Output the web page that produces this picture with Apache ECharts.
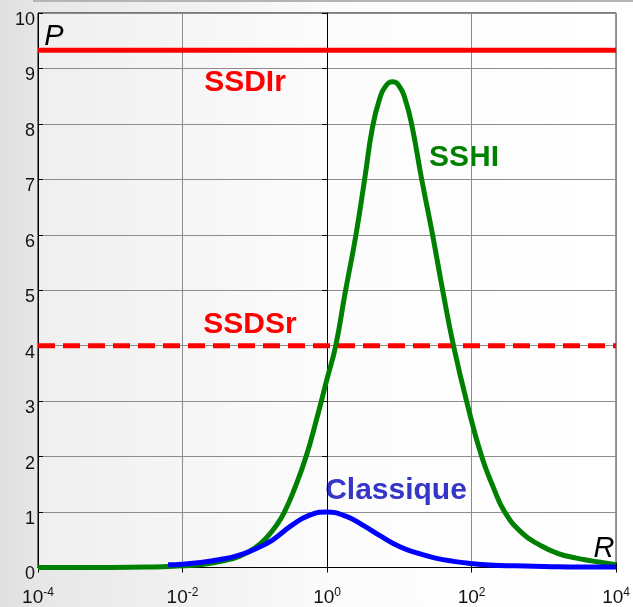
<!DOCTYPE html>
<html>
<head>
<meta charset="utf-8">
<script src="https://cdn.jsdelivr.net/npm/echarts@6/dist/echarts.min.js"></script>
<style>
html,body{margin:0;padding:0;}
#chart{width:633px;height:607px;}
</style>
</head>
<body>
<div id="chart"></div>
<script>
// ---- data (x in log10(R)) ----
const xTickExponents = [-4, -2, 0, 2, 4];
const yTickValues = [0, 1, 2, 3, 4, 5, 6, 7, 8, 9, 10];

const sshiLogR = [-4.0, -3.0, -2.4, -2.0, -1.7, -1.4, -1.2, -1.0, -0.85, -0.7, -0.59, -0.45, -0.29, -0.15, 0.0, 0.12, 0.25, 0.40, 0.52, 0.63, 0.73, 0.81, 0.91, 1.00, 1.08, 1.17, 1.31, 1.46, 1.60, 1.75, 1.95, 2.14, 2.30, 2.46, 2.70, 2.95, 3.20, 3.45, 3.66, 3.85, 4.0];
const sshiP    = [0.0, 0.0, 0.01, 0.03, 0.06, 0.13, 0.21, 0.35, 0.52, 0.76, 1.0, 1.42, 2.0, 2.65, 3.4, 4.0, 4.95, 6.0, 7.0, 7.95, 8.46, 8.68, 8.76, 8.68, 8.45, 8.0, 7.0, 6.0, 5.0, 4.0, 2.9, 2.0, 1.45, 1.0, 0.62, 0.40, 0.25, 0.17, 0.12, 0.08, 0.05];

const classiqueLogR = [-2.2, -2.0, -1.75, -1.5, -1.25, -1.0, -0.75, -0.5, -0.25, 0.0, 0.25, 0.5, 0.75, 1.0, 1.25, 1.5, 1.75, 2.0, 2.25, 2.6, 3.0, 3.5, 4.0];
const classiqueP    = [0.05, 0.06, 0.09, 0.14, 0.21, 0.33, 0.5, 0.75, 0.94, 1.0, 0.93, 0.76, 0.56, 0.38, 0.26, 0.17, 0.11, 0.07, 0.045, 0.03, 0.02, 0.01, 0.01];

const ssdirLevel = 9.33;
const ssdsrLevel = 4.0;
const xRange = [-4, 4];
const yRange = [0, 10];

function pairs(xs, ys){ return xs.map((x,i)=>[x, ys[i]]); }

const FONT = '"Liberation Sans", Arial, sans-serif';
const chart = echarts.init(document.getElementById('chart'));

const option = {
  animation: false,
  backgroundColor: {
    type: 'linear', x: 0, y: 0, x2: 1, y2: 0,
    colorStops: [
      {offset: 0, color: '#dedede'},
      {offset: 0.06, color: '#e7e7e7'},
      {offset: 0.55, color: '#fcfcfc'},
      {offset: 1, color: '#ffffff'}
    ]
  },
  grid: {
    left: 38, right: 14, top: 13, bottom: 38,
    show: true,
    borderColor: '#000', borderWidth: 1,
    backgroundColor: {
      type: 'linear', x: 0, y: 0, x2: 1, y2: 0,
      colorStops: [
        {offset: 0, color: '#efefef'},
        {offset: 0.5, color: '#fcfcfc'},
        {offset: 1, color: '#ffffff'}
      ]
    }
  },
  xAxis: [{
    type: 'value', min: xRange[0], max: xRange[1], interval: 2,
    axisLine: {show: true, onZero: false, lineStyle: {color: '#000', width: 1}},
    axisTick: {show: true, inside: true, length: 5, lineStyle: {color: '#000'}},
    splitLine: {show: true, lineStyle: {color: '#8c8c8c', width: 1}},
    axisLabel: {
      margin: 19,
      showMinLabel: true, showMaxLabel: true,
      formatter: function(v){ return '{b|10}{s|' + String(v) + '}'; },
      rich: {
        b: {fontSize: 19, fontFamily: FONT, color: '#111', lineHeight: 22},
        s: {fontSize: 12, fontFamily: FONT, color: '#111', verticalAlign: 'top', lineHeight: 14}
      }
    }
  }, {
    type: 'value', position: 'top', min: xRange[0], max: xRange[1], interval: 2,
    axisLine: {show: true, lineStyle: {color: '#000'}},
    axisTick: {show: true, inside: true, length: 5, lineStyle: {color: '#000'}},
    axisLabel: {show: false}, splitLine: {show: false}
  }],
  yAxis: [{
    type: 'value', min: yRange[0], max: yRange[1], interval: 1,
    axisLine: {show: true, onZero: false, lineStyle: {color: '#000', width: 1}},
    axisTick: {show: true, inside: true, length: 5, lineStyle: {color: '#000'}},
    splitLine: {show: true, lineStyle: {color: '#8c8c8c', width: 1}},
    axisLabel: {
      margin: 3, fontSize: 18, fontFamily: FONT, color: '#111',
      verticalAlign: 'top', lineHeight: 14,
      showMinLabel: true, showMaxLabel: true
    }
  }, {
    type: 'value', position: 'right', min: yRange[0], max: yRange[1], interval: 1,
    axisLine: {show: true, lineStyle: {color: '#000'}},
    axisTick: {show: true, inside: true, length: 5, lineStyle: {color: '#000'}},
    axisLabel: {show: false}, splitLine: {show: false}
  }],
  series: [
    {
      name: 'SSDIr', type: 'line', showSymbol: false, symbol: 'none',
      data: [[xRange[0], ssdirLevel], [xRange[1], ssdirLevel]],
      lineStyle: {color: '#ff0000', width: 5}, z: 2
    },
    {
      name: 'SSDSr', type: 'line', showSymbol: false, symbol: 'none',
      data: [[xRange[0], ssdsrLevel], [xRange[1], ssdsrLevel]],
      lineStyle: {color: '#ff0000', width: 5, type: [17, 8]}, z: 2
    },
    {
      name: 'SSHI', type: 'line', showSymbol: false, symbol: 'none',
      smooth: 0.5,
      data: pairs(sshiLogR, sshiP),
      lineStyle: {color: '#008000', width: 5}, z: 3
    },
    {
      name: 'Classique', type: 'line', showSymbol: false, symbol: 'none',
      smooth: 0.5,
      data: pairs(classiqueLogR, classiqueP),
      lineStyle: {color: '#0000ff', width: 5}, z: 4
    }
  ],
  graphic: [
    {type: 'rect', shape: {x: 33, y: 0, width: 600, height: 2}, style: {fill: '#b4b4b4'}, silent: true},
    {type: 'text', x: 245, y: 83, style: {text: 'SSDIr', fill: '#ff0000', font: 'bold 30px ' + FONT, textAlign: 'center', textVerticalAlign: 'middle', align: 'center', verticalAlign: 'middle'}},
    {type: 'text', x: 250, y: 325, style: {text: 'SSDSr', fill: '#ff0000', font: 'bold 30px ' + FONT, textAlign: 'center', textVerticalAlign: 'middle', align: 'center', verticalAlign: 'middle'}},
    {type: 'text', x: 464, y: 158, style: {text: 'SSHI', fill: '#008000', font: 'bold 30px ' + FONT, textAlign: 'center', textVerticalAlign: 'middle', align: 'center', verticalAlign: 'middle'}},
    {type: 'text', x: 396, y: 491, style: {text: 'Classique', fill: '#3535c8', font: 'bold 30px ' + FONT, textAlign: 'center', textVerticalAlign: 'middle', align: 'center', verticalAlign: 'middle'}},
    {type: 'text', x: 54, y: 37, style: {text: 'P', fill: '#000', font: 'italic 29px ' + FONT, textAlign: 'center', textVerticalAlign: 'middle', align: 'center', verticalAlign: 'middle'}},
    {type: 'text', x: 604, y: 549, style: {text: 'R', fill: '#000', font: 'italic 29px ' + FONT, textAlign: 'center', textVerticalAlign: 'middle', align: 'center', verticalAlign: 'middle'}}
  ]
};
chart.setOption(option);
</script>
</body>
</html>
